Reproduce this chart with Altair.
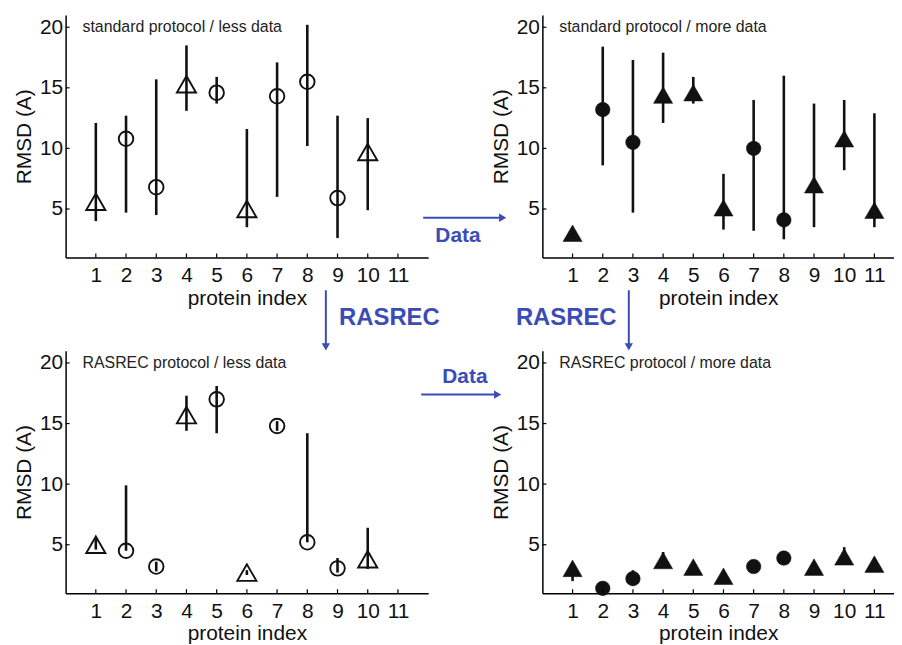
import altair as alt
import pandas as pd

# ---------------- data ----------------
proteins_less = [1, 2, 3, 4, 5, 6, 7, 8, 9, 10]
proteins_more = [1, 2, 3, 4, 5, 6, 7, 8, 9, 10, 11]
tick_x = [1, 2, 3, 4, 5, 6, 7, 8, 9, 10, 11]
tick_y = [5, 10, 15, 20]

std_less_value = [5.6, 10.8, 6.8, 15.3, 14.6, 5.0, 14.3, 15.5, 5.9, 9.7]
std_less_low = [4.0, 4.7, 4.5, 13.1, 13.7, 3.5, 6.0, 10.2, 2.6, 4.9]
std_less_high = [12.1, 12.7, 15.7, 18.5, 15.9, 11.6, 17.1, 20.2, 12.7, 12.5]
std_less_shape = ["triangle", "circle", "circle", "triangle", "circle", "triangle",
                  "circle", "circle", "circle", "triangle"]

std_more_value = [3.0, 13.2, 10.5, 14.4, 14.6, 5.1, 10.0, 4.1, 7.0, 10.8, 4.9]
std_more_low = [2.4, 8.6, 4.7, 12.1, 13.7, 3.3, 3.2, 2.5, 3.5, 8.2, 3.5]
std_more_high = [3.3, 18.4, 17.3, 17.9, 15.9, 7.9, 14.0, 16.0, 13.7, 14.0, 12.9]
std_more_shape = ["triangle", "circle", "circle", "triangle", "triangle", "triangle",
                  "circle", "circle", "triangle", "triangle", "triangle"]

ras_less_value = [5.0, 4.5, 3.2, 15.7, 17.0, 2.7, 14.8, 5.2, 3.05, 3.8]
ras_less_low = [4.6, 4.5, 2.8, 14.4, 14.2, 2.5, 14.4, 5.2, 2.7, 3.0]
ras_less_high = [5.5, 9.9, 3.6, 17.3, 18.1, 2.9, 15.2, 14.2, 3.9, 6.4]
ras_less_shape = std_less_shape

ras_more_value = [3.05, 1.4, 2.2, 3.7, 3.15, 2.4, 3.2, 3.9, 3.15, 4.0, 3.4]
ras_more_low = [2.0, 1.4, 1.9, 3.3, 3.0, 2.3, 3.0, 3.7, 3.0, 3.4, 3.3]
ras_more_high = [3.4, 1.4, 2.9, 4.4, 3.3, 2.5, 3.4, 4.1, 3.3, 4.8, 3.5]
ras_more_shape = std_more_shape

titles = ["standard protocol / less data", "standard protocol / more data",
          "RASREC protocol / less data", "RASREC protocol / more data"]

BLUE = "#3b4cb8"
FONT = "Liberation Sans"
H = 244
PX_PER_UNIT = 365 / 12.0


def panel(prot, val, low, high, shapes, filled, title, xmax):
    df = pd.DataFrame({"protein": prot, "value": val, "low": low, "high": high,
                       "shape": shapes})
    width = round(PX_PER_UNIT * xmax)
    xs = alt.Scale(domain=[0, xmax], nice=False, zero=False)
    ys = alt.Scale(domain=[1, 21], nice=False, zero=False)
    xaxis = alt.Axis(values=tick_x, title="protein index", tickSize=0, labelPadding=7,
                     titlePadding=2, labelFontSize=21, titleFontSize=21, grid=False,
                     domainColor="black", domainWidth=1.5, labelColor="#111",
                     titleColor="#111", titleFontWeight="normal", labelFlush=False,
                     labelOverlap=False)
    yaxis = alt.Axis(values=tick_y, title="RMSD (A)", tickSize=0, labelPadding=3,
                     titlePadding=5, labelFontSize=21, titleFontSize=21, grid=False,
                     domainColor="black", domainWidth=1.5, labelColor="#111",
                     titleColor="#111", titleFontWeight="normal", labelFlush=False,
                     labelOverlap=False)
    base = alt.Chart(df)
    bars = base.mark_rule(color="#111", strokeWidth=2.6).encode(
        x=alt.X("protein:Q", scale=xs, axis=xaxis),
        y=alt.Y("low:Q", scale=ys, axis=yaxis),
        y2="high:Q",
    )
    shape_scale = alt.Scale(domain=["circle", "triangle"], range=["circle", "triangle-up"])
    size_scale = alt.Scale(domain=["circle", "triangle"],
                           range=[300, 440] if filled else [215, 370])
    if filled:
        pts = base.mark_point(filled=True, fill="#111", stroke="#111", strokeWidth=0.5, opacity=1)
    else:
        pts = base.mark_point(filled=False, stroke="#111", strokeWidth=1.9, opacity=1)
    pts = pts.encode(
        x=alt.X("protein:Q", scale=xs, axis=xaxis),
        y=alt.Y("value:Q", scale=ys, axis=yaxis),
        shape=alt.Shape("shape:N", scale=shape_scale, legend=None),
        size=alt.Size("shape:N", scale=size_scale, legend=None),
    )
    xt = alt.Chart(pd.DataFrame({"t": tick_x})).mark_rule(color="black", strokeWidth=1.2).encode(
        x=alt.X("t:Q", scale=xs, axis=xaxis), y=alt.value(H), y2=alt.value(H - 4))
    yt = alt.Chart(pd.DataFrame({"t": tick_y})).mark_rule(color="black", strokeWidth=1.2).encode(
        y=alt.Y("t:Q", scale=ys, axis=yaxis), x=alt.value(0), x2=alt.value(4))
    lab = alt.Chart(pd.DataFrame({"label": [title]})).mark_text(
        align="left", baseline="middle", fontSize=16, font=FONT, color="#222").encode(
        x=alt.value(17), y=alt.value(12), text="label:N")
    return alt.layer(bars, pts, xt, yt, lab).properties(width=width, height=H)


def hline_arrow(x1, x2, y):
    d = pd.DataFrame({"a": [0]})
    line = alt.Chart(d).mark_rule(color=BLUE, strokeWidth=2).encode(
        x=alt.value(x1), x2=alt.value(x2 - 4), y=alt.value(y))
    head = alt.Chart(d).mark_point(shape="triangle-right", filled=True, fill=BLUE,
                                   opacity=1, size=70, strokeWidth=0).encode(
        x=alt.value(x2 - 3), y=alt.value(y))
    return [line, head]


def vline_arrow(x, y1, y2):
    d = pd.DataFrame({"a": [0]})
    line = alt.Chart(d).mark_rule(color=BLUE, strokeWidth=2).encode(
        x=alt.value(x), y=alt.value(y1), y2=alt.value(y2 - 4))
    head = alt.Chart(d).mark_point(shape="triangle-down", filled=True, fill=BLUE,
                                   opacity=1, size=70, strokeWidth=0).encode(
        x=alt.value(x), y=alt.value(y2 - 3))
    return [line, head]


def blue_text(txt, x, y, size):
    return alt.Chart(pd.DataFrame({"label": [txt]})).mark_text(
        align="center", baseline="middle", fontSize=size, fontWeight="bold",
        font=FONT, color=BLUE).encode(x=alt.value(x), y=alt.value(y), text="label:N")


tl = panel(proteins_less, std_less_value, std_less_low, std_less_high, std_less_shape,
           False, titles[0], 12)
annot = []
annot += hline_arrow(360, 443, 204)
annot.append(blue_text("Data", 395, 222, 21))
annot += vline_arrow(262, 277, 337)
annot.append(blue_text("RASREC", 326, 305, 24))
annot += vline_arrow(567, 277, 337)
annot.append(blue_text("RASREC", 504, 305, 24))
annot += hline_arrow(358, 438, 382)
annot.append(blue_text("Data", 402, 364, 21))
tl = alt.layer(tl, *annot)

tr = panel(proteins_more, std_more_value, std_more_low, std_more_high, std_more_shape,
           True, titles[1], 11.65)
bl = panel(proteins_less, ras_less_value, ras_less_low, ras_less_high, ras_less_shape,
           False, titles[2], 12)
br = panel(proteins_more, ras_more_value, ras_more_low, ras_more_high, ras_more_shape,
           True, titles[3], 11.65)

chart = alt.concat(tl, tr, bl, br, columns=2, spacing={"row": 94, "column": 115},
                   bounds="flush").properties(
    padding={"left": 5, "top": 5, "right": 0, "bottom": 0},
    background="white",
).configure_view(stroke=None).configure_axis(
    labelFont=FONT, titleFont=FONT, labelOverlap=False
)

chart.save("out.html", embed_options={"renderer": "svg", "actions": False})
